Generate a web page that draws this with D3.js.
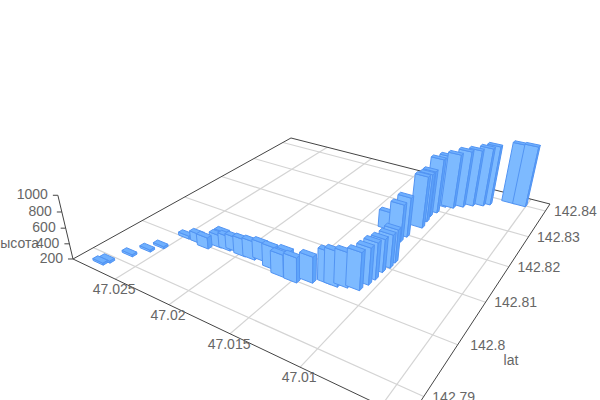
<!DOCTYPE html><html><body style="margin:0;background:#fff"><script src="https://cdn.jsdelivr.net/npm/d3@7"></script><svg id="s" width="600" height="400" style="display:block"></svg><script>
const lonValues=[47.0276,47.0274,47.0267,47.0261,47.0256,47.0250,47.0238,47.0229,47.0222,47.0221,47.0214,47.0209,47.0200,47.0192,47.0185,47.0173,47.0163,47.0152,47.0143,47.0163,47.0132,47.0127,47.0121,47.0113,47.0111,47.0110,47.0110,47.0108,47.0108,47.0131,47.0117,47.0116,47.0112,47.0113,47.0114,47.0112,47.0110,47.0104,47.0098,47.0092,47.0085,47.0081,47.0065,47.0056];
const latValues=[142.7885,142.7894,142.7924,142.7948,142.7966,142.8008,142.8008,142.8003,142.8016,142.8026,142.8017,142.8021,142.8017,142.8018,142.8023,142.8014,142.8006,142.8005,142.8017,142.8022,142.8028,142.8028,142.8034,142.8038,142.8056,142.8072,142.8094,142.8110,142.8126,142.8207,142.8183,142.8202,142.8241,142.8264,142.8282,142.8301,142.8328,142.8332,142.8345,142.8358,142.8368,142.8378,142.8405,142.8405];
const heightValues=[226,227,227,227,227,241,322,348,361,370,387,387,424,436,435,483,480,514,526,457,598,633,632,666,658,661,617,620,623,434,689,719,882,838,818,929,898,936,964,965,991,1006,1015,1025];
const lonTicks=[47.025,47.02,47.015,47.01,47.005];
const latTicks=[142.79,142.8,142.81,142.82,142.83,142.84];
const heightTicks=[200,400,600,800,1000];
const lonDomain=[47.00346,47.0294],latDomain=[142.78625,142.843],heightDomain=[200,1000];
const barLon=.00105,barLat=.0009;

const U=d3.scaleLinear().domain(lonDomain).range([0,1]);
const V=d3.scaleLinear().domain(latDomain).range([0,1]);
const Z=d3.scaleLinear().domain(heightDomain).range([0,1]);
const a=-305.25,b=499.5,c=409,d=-50.9,e=-82,f=419,g=.4213,h=.6519,k=-.0888;
function proj(lon,lat,hv){const u=U(lon),v=V(lat),z=Z(hv),w=g*u+h*v+1+k*z;
 return [(a*u+b*v+c+300*k*z)/w,(d*u+e*v+f+1215*k*z)/w];}
const depth=(lon,lat)=>g*U(lon)+h*V(lat);
const svg=d3.select('#s');
const line=d3.line();
const z0=heightDomain[0];
const font='Arial,"Liberation Sans",sans-serif';

const grid=svg.append('g').attr('stroke','#d4d4d4').attr('stroke-width',1.2).attr('fill','none');
lonTicks.forEach(t=>grid.append('path').attr('d',line([proj(t,latDomain[0],z0),proj(t,latDomain[1],z0)])));
latTicks.forEach(t=>grid.append('path').attr('d',line([proj(lonDomain[0],t,z0),proj(lonDomain[1],t,z0)])));

const ax=svg.append('g').attr('stroke','#444').attr('fill','none');
ax.append('path').attr('d',line([proj(lonDomain[1],latDomain[0],z0),proj(lonDomain[0],latDomain[0],z0)]));
ax.append('path').attr('d',line([proj(lonDomain[0],latDomain[0],z0),proj(lonDomain[0],latDomain[1],z0)]));
ax.append('path').attr('d',line([proj(lonDomain[0],latDomain[1],z0),proj(lonDomain[1],latDomain[1],z0)]));
ax.append('path').attr('d',line([proj(lonDomain[1],latDomain[1],z0),proj(lonDomain[1],latDomain[0],z0)]));
ax.append('path').attr('d',line([proj(lonDomain[1],latDomain[0],z0),proj(lonDomain[1],latDomain[0],1000)]));
heightTicks.forEach(t=>{const p=proj(lonDomain[1],latDomain[0],t);ax.append('path').attr('d',line([p,[p[0]-5,p[1]]]));});

const bars=d3.range(lonValues.length).map(i=>({lon:lonValues[i],lat:latValues[i],h:heightValues[i]}))
 .sort((p,q)=>depth(q.lon,q.lat)-depth(p.lon,p.lat));
const gb=svg.append('g').attr('stroke','#5294f3').attr('stroke-width',1).attr('stroke-linejoin','round');
bars.forEach(p=>{
 const x0=p.lon-.0006,x1=x0+barLon,y0=p.lat-.00085,y1=y0+barLat;
 const A=(hv)=>proj(x0,y0,hv),B=(hv)=>proj(x1,y0,hv),C=(hv)=>proj(x0,y1,hv),D=(hv)=>proj(x1,y1,hv);
 gb.append('path').attr('fill','#7dbaff').attr('d',line([B(z0),A(z0),A(p.h),B(p.h)])+'Z');
 gb.append('path').attr('fill','#5ea4fb').attr('d',line([A(z0),C(z0),C(p.h),A(p.h)])+'Z');
 gb.append('path').attr('fill','#6fb0fe').attr('d',line([A(p.h),B(p.h),D(p.h),C(p.h)])+'Z');
});

const tx=svg.append('g').attr('fill','#666').attr('font-family',font).attr('font-size',14).attr('dominant-baseline','central');
lonTicks.forEach(t=>{const p=proj(t,latDomain[0],z0);if(p[1]+10<400)tx.append('text').attr('x',p[0]-1).attr('y',p[1]+10).attr('text-anchor','middle').text(t);});
latTicks.forEach(t=>{const p=proj(lonDomain[0],t,z0);tx.append('text').attr('x',p[0]+30).attr('y',p[1]).attr('text-anchor','middle').text(t);});
heightTicks.forEach(t=>{const p=proj(lonDomain[1],latDomain[0],t);tx.append('text').attr('x',p[0]-10).attr('y',p[1]-1).attr('text-anchor','end').text(t);});
const nm=svg.append('g').attr('fill','#666').attr('font-family',font).attr('font-size',14).attr('dominant-baseline','central');
nm.append('text').attr('x',39).attr('y',243).attr('text-anchor','end').text('высота');
nm.append('text').attr('x',511).attr('y',360).attr('text-anchor','middle').text('lat');
</script></body></html>
